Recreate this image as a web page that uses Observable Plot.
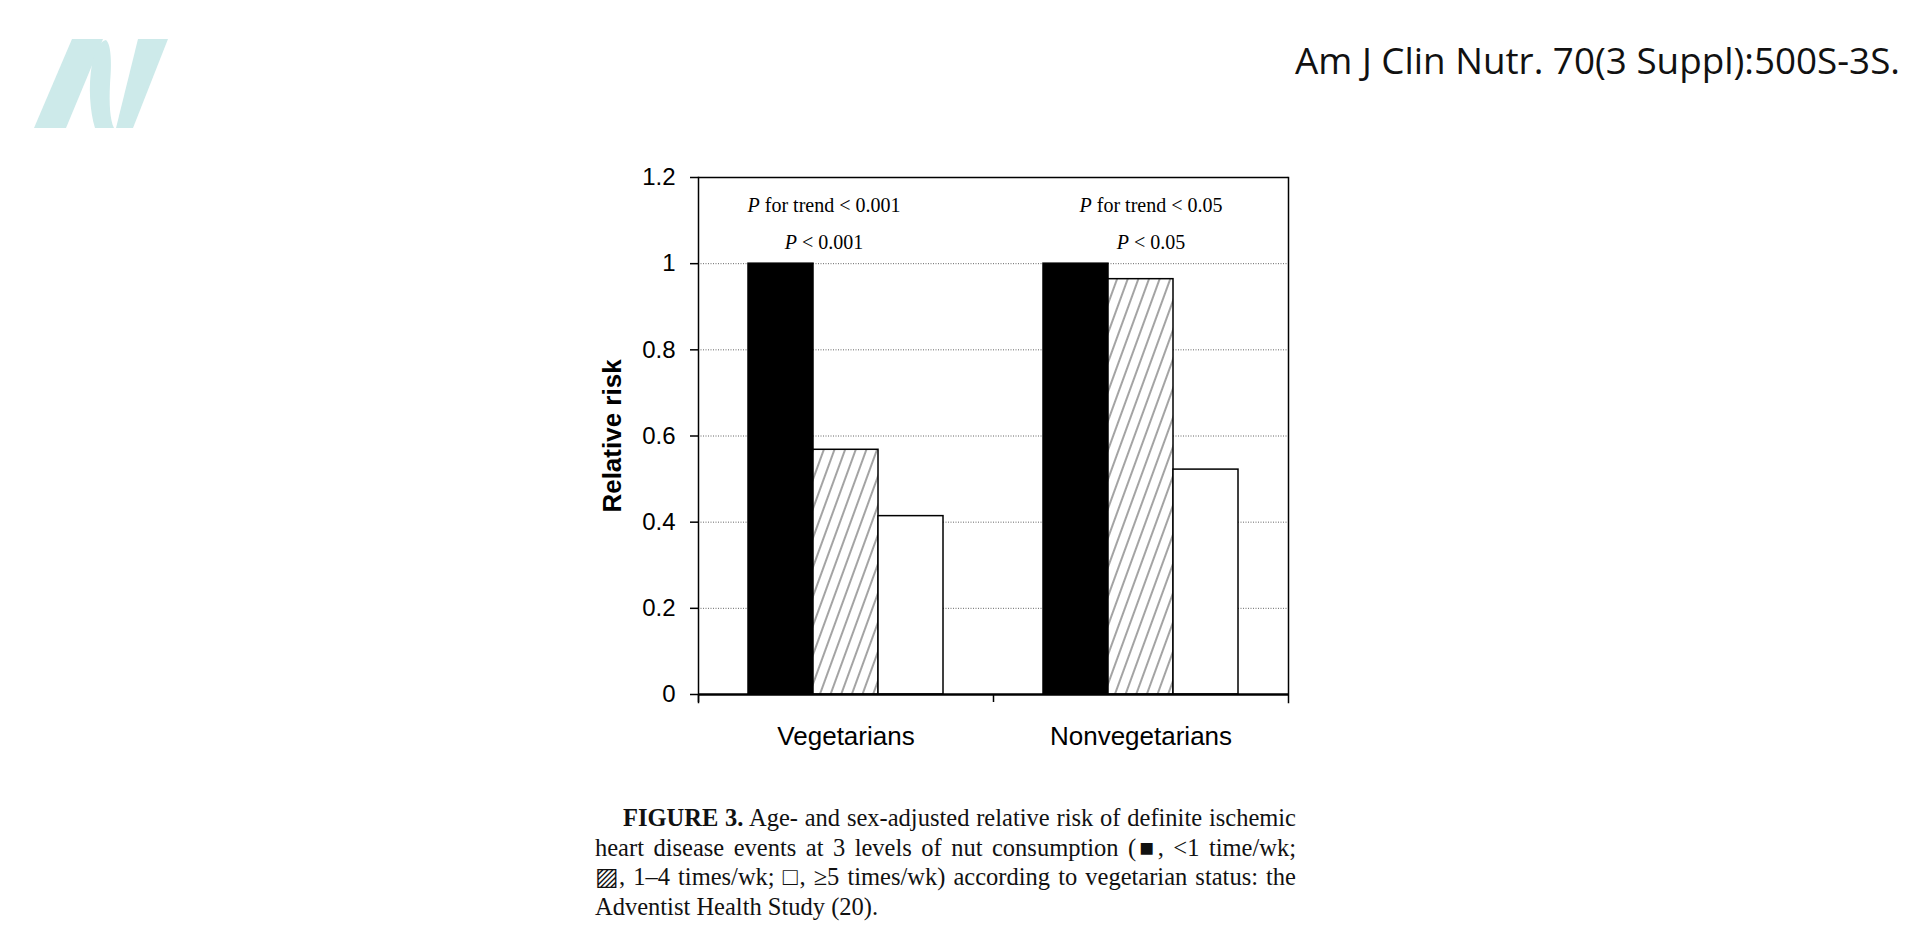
<!DOCTYPE html>
<html>
<head>
<meta charset="utf-8">
<script src="https://cdn.jsdelivr.net/npm/d3@7"></script>
<script src="https://cdn.jsdelivr.net/npm/@observablehq/plot@0.6"></script>
<style>
  html, body { margin: 0; padding: 0; background: #fff; }
  #page { position: relative; width: 1920px; height: 944px; overflow: hidden; background: #fff; }
  #logo { position: absolute; left: 30px; top: 36px; }
  #cite { position: absolute; right: 20px; top: 42px; font-family: "Open Sans", "Noto Sans", sans-serif; font-size: 36.8px; line-height: 36px; color: #111; white-space: nowrap; }
  #chart { position: absolute; left: 580px; top: 140px; }
  #caption { position: absolute; left: 595px; top: 803px; width: 701px; font-family: "Liberation Serif", "Times New Roman", serif; font-size: 24.5px; line-height: 29.5px; color: #111; }
  #caption .ln { display: block; white-space: nowrap; text-align: justify; text-align-last: justify; }
  #caption .ln.first { text-indent: 28px; }
  #caption .ln.last { text-align-last: left; }
</style>
</head>
<body>
<div id="page">
  <svg id="logo" width="140" height="96" viewBox="30 36 140 96">
    <g fill="#cdeaea">
      <path d="M72,39 L103,39 L66,128 L34,128 Z"/>
      <path d="M106,40 C111,44 112,62 110,84 C109,104 110,120 114,128 L95,128 C90,112 88,86 92,64 C95,50 100,41 106,40 Z"/>
      <path d="M138,39 L168,39 L133,128 L116,128 Z"/>
    </g>
  </svg>
  <div id="cite">Am J Clin Nutr. 70(3 Suppl):500S-3S.</div>
  <div id="chart"></div>
  <div id="caption"><span class="ln first"><b>FIGURE 3.</b> Age- and sex-adjusted relative risk of definite ischemic</span><span class="ln">heart disease events at 3 levels of nut consumption (■, &lt;1 time/wk;</span><span class="ln">▨, 1–4 times/wk; □, ≥5 times/wk) according to vegetarian status: the</span><span class="ln last">Adventist Health Study (20).</span></div>
</div>
<script>
// ---- data ----
const groups = ["Vegetarians", "Nonvegetarians"];
const levels = ["<1 time/wk", "1–4 times/wk", "≥5 times/wk"];
const vegetarianRR = [1.0, 0.568, 0.414];
const nonvegetarianRR = [1.0, 0.964, 0.522];
const yTicks = [0, 0.2, 0.4, 0.6, 0.8, 1, 1.2];
const yTickLabels = ["0", "0.2", "0.4", "0.6", "0.8", "1", "1.2"];
const gridValues = [0.2, 0.4, 0.6, 0.8, 1];
const trendLabels = ["P for trend < 0.001", "P for trend < 0.05"];
const pLabels = ["P < 0.001", "P < 0.05"];
const levelFills = ["black", "url(#hatch)", "white"];

// ---- tables ----
const seriesByGroup = [vegetarianRR, nonvegetarianRR];
const rows = [];
groups.forEach((g, gi) => levels.forEach((l, li) => rows.push({group: g, level: l, value: seriesByGroup[gi][li]})));
const annots = groups.map((g, i) => ({group: g, trend: trendLabels[i], p: pLabels[i]}));

// ---- layout ----
const W = 740, H = 660, ML = 118, MR = 32, MT = 37, MB = 106;
const facetW = (W - ML - MR) / 2;
const annotDx = [-22, 10];
const serif = "'Liberation Serif', 'Times New Roman', serif";

const annotMarks = [];
annots.forEach((a, i) => {
  annotMarks.push(Plot.text([a], {fx: "group", text: "trend", y: () => 1.135, dx: annotDx[i], fontFamily: serif, fontSize: 20, fill: "black"}));
  annotMarks.push(Plot.text([a], {fx: "group", text: "p", y: () => 1.05, dx: annotDx[i], fontFamily: serif, fontSize: 20, fill: "black"}));
});

const svg = Plot.plot({
  width: W, height: H,
  marginLeft: ML, marginRight: MR, marginTop: MT, marginBottom: MB,
  style: {fontFamily: "'Liberation Sans', Arial, sans-serif", fontSize: "24px", color: "black", background: "white", overflow: "visible"},
  fx: {domain: groups, padding: 0, label: null, axis: null},
  x: {domain: levels, paddingInner: 0, paddingOuter: 0.75, axis: null},
  y: {domain: [0, 1.2], axis: null},
  color: {domain: levels, range: levelFills},
  marks: [
    Plot.gridY(gridValues, {stroke: "#666", strokeOpacity: 1, strokeDasharray: "1,1.5", strokeWidth: 1}),
    Plot.barY(rows, {fx: "group", x: "level", y: "value", fill: "level", stroke: "black", strokeWidth: 1.5, inset: 0}),
    Plot.ruleY([0], {stroke: "black", strokeWidth: 2.5}),
    Plot.ruleY([1.2], {stroke: "black", strokeWidth: 1.5}),
    Plot.frame({anchor: "left", facetAnchor: "left", stroke: "black", strokeWidth: 1.5, insetBottom: -8}),
    Plot.frame({anchor: "right", facetAnchor: "right", stroke: "black", strokeWidth: 1.5, insetBottom: -8}),
    Plot.axisY({ticks: yTicks, tickFormat: d => yTickLabels[yTicks.indexOf(d)], tickSize: 8, tickPadding: 15, fontSize: 24, label: null, strokeWidth: 1.5}),
    Plot.axisY({ticks: [], tickSize: 0, label: "Relative risk", labelAnchor: "center", labelArrow: "none", labelOffset: 96, fontSize: 26, fontWeight: "bold"}),
    Plot.axisFx({anchor: "bottom", tickSize: 0, tickPadding: 32, fontSize: 26, label: null}),
    Plot.axisFx({anchor: "bottom", tickSize: 8, tickFormat: () => "", dx: -facetW / 2, label: null, strokeWidth: 1.5}),
    ...annotMarks
  ]
});

const ns = "http://www.w3.org/2000/svg";
const defs = document.createElementNS(ns, "defs");
defs.innerHTML = '<pattern id="hatch" patternUnits="userSpaceOnUse" width="10" height="10" patternTransform="rotate(20)">' +
  '<rect width="10" height="10" fill="white"/><line x1="5" y1="0" x2="5" y2="10" stroke="#333" stroke-width="0.9"/></pattern>';
svg.prepend(defs);

// italic "P" in the significance annotations
svg.querySelectorAll("text").forEach(t => {
  const s = t.textContent;
  if (/^P\s/.test(s) && t.children.length === 0) {
    t.textContent = "";
    const a = document.createElementNS(ns, "tspan");
    a.setAttribute("font-style", "italic");
    a.textContent = "P";
    const b = document.createElementNS(ns, "tspan");
    b.textContent = s.slice(1);
    t.append(a, b);
  }
});

document.getElementById("chart").append(svg);
</script>
</body>
</html>
